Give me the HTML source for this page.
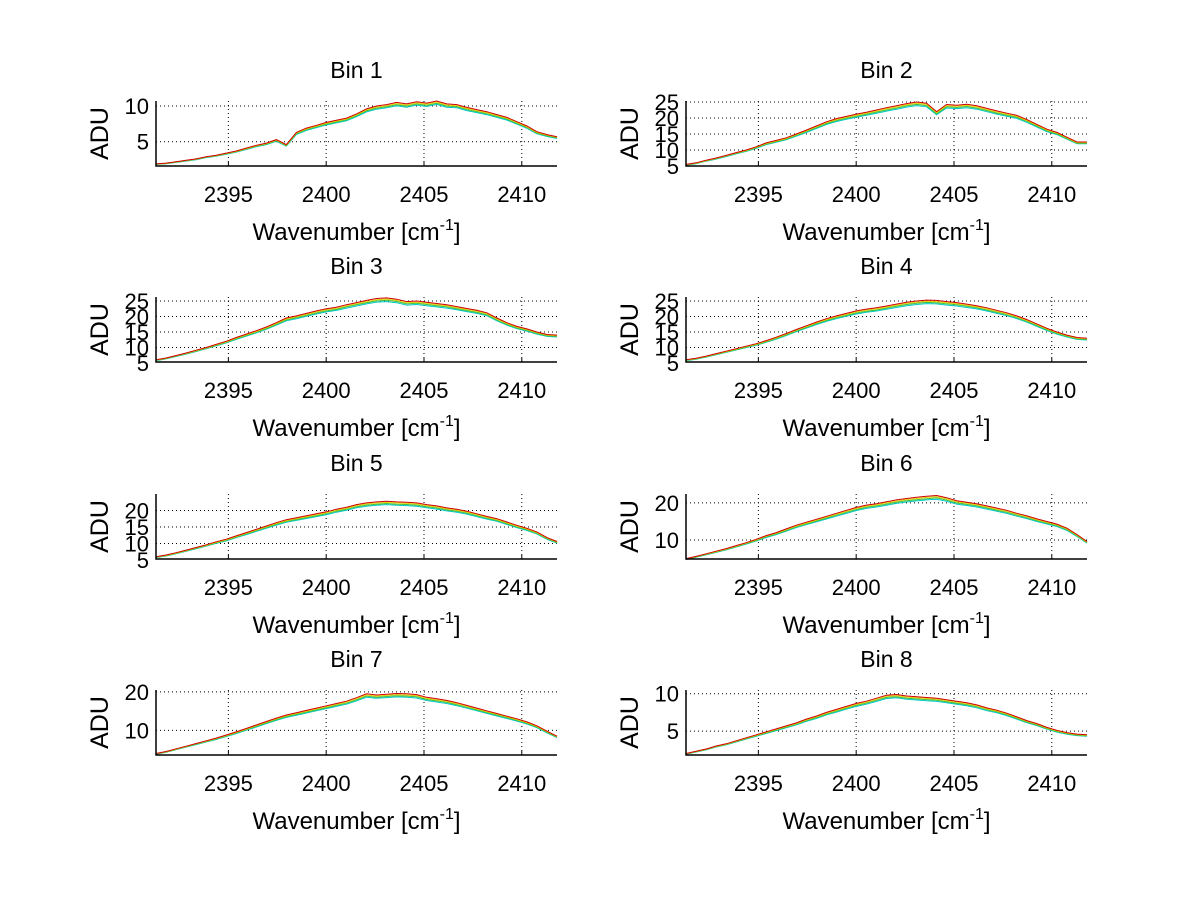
<!DOCTYPE html>
<html><head><meta charset="utf-8"><style>
body{margin:0;background:#fff;}
svg text{font-family:"Liberation Sans",sans-serif;fill:#000;}
</style></head><body>
<svg id="fig" width="1200" height="901" xmlns="http://www.w3.org/2000/svg"></svg>
<script>
const xTicks=[2395,2400,2405,2410];
const xMin=2391.3, xMax=2411.8;
const bin1=[1.9,2.0,2.2,2.4,2.6,2.9,3.1,3.4,3.7,4.1,4.5,4.8,5.3,4.6,6.3,6.9,7.3,7.7,8.0,8.3,8.9,9.6,10.0,10.2,10.5,10.3,10.6,10.4,10.7,10.3,10.2,9.8,9.5,9.2,8.8,8.4,7.8,7.2,6.4,6.0,5.7];
const bin2=[5.5,6,6.8,7.5,8.3,9.2,10,11,12.2,13,13.8,15,16.2,17.5,18.8,19.8,20.5,21.2,21.8,22.5,23.2,23.8,24.5,25,24.6,22,24.2,24,24.3,23.8,23,22.2,21.5,20.8,19.5,18,16.5,15.5,14,12.5,12.5];
const bin3=[6,6.6,7.4,8.2,9.1,10,11,12,13.2,14.3,15.4,16.6,18,19.5,20.2,21,21.8,22.5,23,23.8,24.5,25.2,25.8,26,25.6,24.8,25,24.6,24.2,23.8,23.2,22.6,22,21.2,19.5,18,16.8,16,15,14.2,14];
const bin4=[6,6.5,7.2,8,8.8,9.6,10.4,11.2,12.2,13.3,14.5,15.8,17,18.2,19.3,20.2,21,21.8,22.4,22.8,23.4,24,24.6,25,25.3,25.2,24.8,24.5,24,23.5,22.8,22,21.2,20.2,19,17.6,16.2,15,14,13.2,13];
const bin5=[6,6.5,7.2,8,8.8,9.6,10.5,11.3,12.3,13.3,14.3,15.3,16.3,17.2,17.8,18.4,19,19.6,20.4,21,21.8,22.3,22.6,22.8,22.6,22.5,22.3,21.8,21.4,20.8,20.4,19.8,19,18.2,17.5,16.5,15.5,14.6,13.5,11.8,10.6];
const bin6=[5,5.6,6.3,7,7.7,8.5,9.3,10.2,11.2,12,13,14,14.8,15.6,16.4,17.2,18,18.8,19.4,19.8,20.3,20.8,21.2,21.5,21.8,22,21.4,20.6,20.2,19.8,19.2,18.6,18,17.2,16.5,15.7,15,14.3,13.2,11.5,9.6];
const bin7=[4,4.5,5.2,5.9,6.6,7.3,8,8.8,9.6,10.5,11.4,12.3,13.2,14,14.6,15.2,15.8,16.4,17,17.6,18.5,19.5,19.2,19.4,19.6,19.5,19.3,18.6,18.2,17.8,17.2,16.5,15.8,15.1,14.4,13.7,13,12.2,11.2,9.8,8.5];
const bin8=[2,2.3,2.6,3,3.3,3.7,4.1,4.5,4.9,5.3,5.7,6.1,6.6,7,7.5,7.9,8.3,8.7,9,9.4,9.8,9.9,9.7,9.6,9.5,9.4,9.2,9,8.8,8.5,8.1,7.8,7.4,6.9,6.4,6,5.5,5.1,4.8,4.6,4.5];
const binData=[bin1,bin2,bin3,bin4,bin5,bin6,bin7,bin8];
const yRanges=[[1.6,10.7],[5,25.3],[5.3,26.3],[5.3,26.3],[5.3,25],[4.9,22.4],[3.6,20.5],[1.8,10.5]];
const yTickSets=[[5,10],[5,10,15,20,25],[5,10,15,20,25],[5,10,15,20,25],[5,10,15,20],[10,20],[10,20],[5,10]];
const seriesScale=[0.955,0.97,0.985,1.0];
const seriesColors=["#00c8c8","#40c040","#e0d000","#d00000"];

const svg=document.getElementById('fig');
const NS="http://www.w3.org/2000/svg";
function mk(tag,attrs,parent){const e=document.createElementNS(NS,tag);for(const k in attrs)e.setAttribute(k,attrs[k]);(parent||svg).appendChild(e);return e;}
const colX=[156,686], rowY=[101,297,494,690], W=401, H=65;
for(let b=0;b<8;b++){
  const x0=colX[b%2], y0=rowY[Math.floor(b/2)];
  const g=mk('g',{});
  
  
  const [ymin,ymax]=yRanges[b];
  const sx=v=>x0+(v-xMin)/(xMax-xMin)*W;
  const sy=v=>y0+H-(v-ymin)/(ymax-ymin)*H;
  for(const t of xTicks){
    const gl=mk('line',{x1:sx(t),x2:sx(t),y1:y0,y2:y0+H,stroke:'#000','stroke-width':1,'stroke-dasharray':'1,3'},g);
    
    
    const tk=mk('line',{x1:sx(t),x2:sx(t),y1:y0+H,y2:y0+H-4,stroke:'#000'},g);
    
    
    const tl=mk('text',{x:sx(t),y:y0+H+36,'font-size':22,'text-anchor':'middle'},g);
    tl.textContent=t;
    
    
  }
  for(const t of yTickSets[b]){
    const y=sy(t);
    if(y>=y0-0.5&&y<=y0+H+0.5){
      const gl=mk('line',{x1:x0,x2:x0+W,y1:y,y2:y,stroke:'#000','stroke-width':1,'stroke-dasharray':'1,3'},g);
      
      
    }
    const tl=mk('text',{x:x0-7,y:y+8,'font-size':22,'text-anchor':'end'},g);
    tl.textContent=t;
    
    
  }
  const data=binData[b];
  for(let s=0;s<seriesScale.length;s++){
    const pts=data.map((v,i)=>sx(xMin+i*(xMax-xMin)/(data.length-1)).toFixed(1)+','+sy(v*seriesScale[s]).toFixed(1)).join(' ');
    const pl=mk('polyline',{points:pts,fill:'none',stroke:seriesColors[s],'stroke-width':1},g);
    
    
  }
  const ax=mk('path',{d:`M${x0},${y0} V${y0+H} H${x0+W}`,fill:'none',stroke:'#000','stroke-width':1.5},g);
  
  
  const ti=mk('text',{x:x0+W/2,y:y0-23,'font-size':23,'text-anchor':'middle'},g);
  ti.textContent='Bin '+(b+1);
  
  
  const yl=mk('text',{x:0,y:0,'font-size':25,'text-anchor':'middle',transform:`translate(${x0-48},${y0+H/2}) rotate(-90)`},g);
  yl.textContent='ADU';
  
  
  const xl=mk('text',{x:x0+W/2,y:y0+H+74,'font-size':24,'text-anchor':'middle'},g);
  xl.innerHTML='Wavenumber [cm<tspan dy="-10" font-size="16">-1</tspan><tspan dy="10">]</tspan>';
  
  
}
</script>
</body></html>
